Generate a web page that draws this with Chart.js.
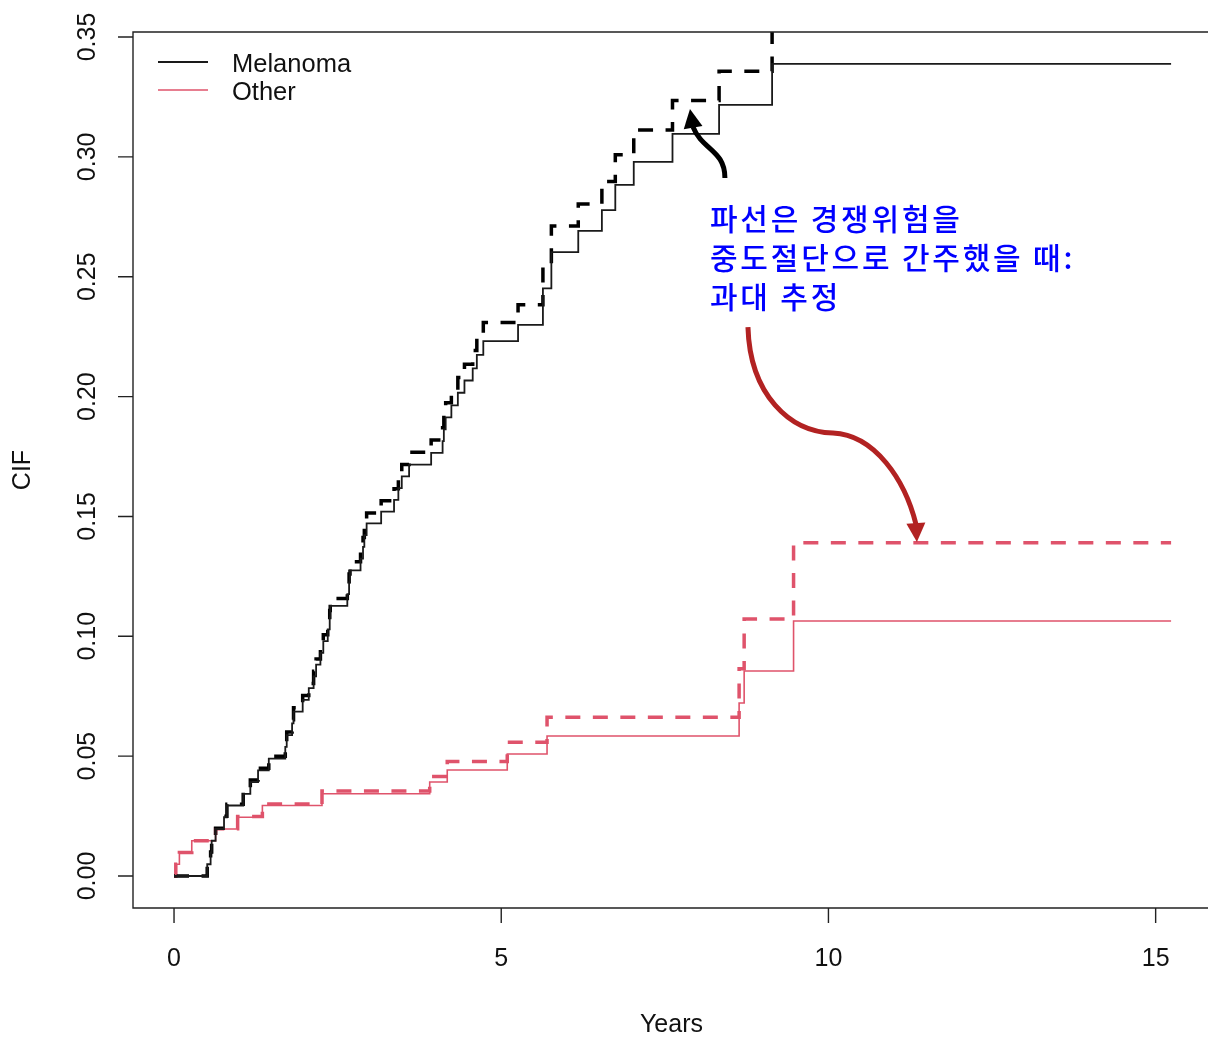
<!DOCTYPE html>
<html><head><meta charset="utf-8">
<script src="https://cdn.jsdelivr.net/npm/chart.js@4/dist/chart.umd.min.js"></script>
<style>html,body{margin:0;padding:0;background:#fff;}canvas{display:block;}</style>
</head><body>
<canvas id="c" width="1208" height="1038"></canvas>
<script>
// ---- data (years, cumulative incidence) ----
const melanomaTimes = [0,0.507,0.559,0.575,0.635,0.764,0.808,1.057,1.166,1.284,1.448,1.700,1.722,1.804,1.826,1.966,2.059,2.133,2.171,2.237,2.281,2.349,2.379,2.387,2.648,2.675,2.689,2.850,2.888,2.908,2.943,3.165,3.362,3.428,3.480,3.592,3.929,4.104,4.123,4.151,4.238,4.337,4.438,4.564,4.627,4.726,5.257,5.637,5.766,6.177,6.538,6.743,7.025,7.617,8.329,9.139,15.236];
const melanomaCIF = [0,0.0049,0.0098,0.0147,0.0196,0.0245,0.0294,0.0343,0.0392,0.0441,0.0490,0.0539,0.0588,0.0637,0.0686,0.0735,0.0784,0.0833,0.0882,0.0931,0.0980,0.1029,0.1078,0.1127,0.1176,0.1225,0.1275,0.1324,0.1373,0.1422,0.1471,0.1520,0.1569,0.1618,0.1667,0.1716,0.1765,0.1814,0.1863,0.1913,0.1963,0.2016,0.2067,0.2118,0.2174,0.2231,0.2299,0.2451,0.2603,0.2691,0.2778,0.2883,0.2979,0.3096,0.3217,0.3388,0.3388];
const melanomaCensored = [0,0.0050,0.0100,0.0149,0.0199,0.0249,0.0299,0.0349,0.0400,0.0450,0.0500,0.0551,0.0601,0.0652,0.0702,0.0753,0.0803,0.0854,0.0905,0.0955,0.1006,0.1057,0.1108,0.1158,0.1209,0.1260,0.1311,0.1362,0.1412,0.1463,0.1514,0.1565,0.1616,0.1666,0.1717,0.1768,0.1819,0.1870,0.1921,0.1974,0.2026,0.2080,0.2135,0.2192,0.2250,0.2309,0.2383,0.2547,0.2712,0.2803,0.2897,0.3009,0.3112,0.3235,0.3357,0.3545,0.3545];
const otherTimes = [0,0.027,0.082,0.271,0.635,0.972,1.350,2.261,3.907,4.175,5.092,5.700,8.635,8.712,9.467,15.236];
const otherCIF = [0,0.0049,0.0098,0.0147,0.0196,0.0245,0.0294,0.0343,0.0392,0.0442,0.0509,0.0584,0.0722,0.0855,0.1064,0.1064];
const otherCensored = [0,0.0049,0.0098,0.0147,0.0197,0.0248,0.0300,0.0355,0.0415,0.0478,0.0558,0.0662,0.0865,0.1072,0.1390,0.1390];
const xTickValues = [0,5,10,15];
const xTickLabels = ['0','5','10','15'];
const yTickValues = [0,0.05,0.10,0.15,0.20,0.25,0.30,0.35];
const yTickLabels = ['0.00','0.05','0.10','0.15','0.20','0.25','0.30','0.35'];
const legendLabels = ['Melanoma','Other'];
const xTitle = 'Years';
const yTitle = 'CIF';
const noteLines = ['파선은 경쟁위험을','중도절단으로 간주했을 때:','과대 추정'];

// annotation geometry in data units
const noteAnchor = {x: 8.189, y: 0.2695};
const blackArrow = [[8.418,0.2912],[8.418,0.3029],[8.067,0.3029],[7.930,0.3125]];
const blackArrowTip = [7.884,0.3200];
const redArrow = [[8.770,0.2290],[8.801,0.2007],[9.412,0.1852],[10.069,0.1848],[10.711,0.1840],[11.169,0.1652],[11.337,0.1468]];
const redArrowTip = [11.352,0.1393];

const BLACK = '#1a1a1a';
const PINK = '#DF536B';
const AXIS_FONT = '25px "Liberation Sans", Arial, sans-serif';

function pts(xs, ys){ return xs.map((x,i)=>({x:x, y:ys[i]})); }

function spacedText(ctx, str, x, y, gap){
  let cx = x;
  for (const ch of str){
    ctx.fillText(ch, cx, y);
    cx += ctx.measureText(ch).width + gap;
  }
}

const decor = {
  id: 'decor',
  afterDraw(chart){
    const ctx = chart.ctx, ca = chart.chartArea;
    const xs = chart.scales.x, ys = chart.scales.y;
    ctx.save();
    // box (right edge lies beyond the canvas)
    ctx.strokeStyle = '#222'; ctx.lineWidth = 1.4;
    ctx.beginPath();
    ctx.moveTo(ca.right+5, ca.top); ctx.lineTo(ca.left, ca.top); ctx.lineTo(ca.left, ca.bottom); ctx.lineTo(ca.right+5, ca.bottom);
    ctx.stroke();
    // ticks
    ctx.beginPath();
    xTickValues.forEach(v=>{ const p = xs.getPixelForValue(v); ctx.moveTo(p, ca.bottom); ctx.lineTo(p, ca.bottom+15); });
    yTickValues.forEach(v=>{ const p = ys.getPixelForValue(v); ctx.moveTo(ca.left, p); ctx.lineTo(ca.left-15, p); });
    ctx.stroke();
    // tick labels
    ctx.fillStyle = '#111'; ctx.font = AXIS_FONT; ctx.textAlign = 'center'; ctx.textBaseline = 'alphabetic';
    xTickValues.forEach((v,i)=>{ ctx.fillText(xTickLabels[i], xs.getPixelForValue(v), ca.bottom+58); });
    yTickValues.forEach((v,i)=>{
      ctx.save(); ctx.translate(ca.left-38, ys.getPixelForValue(v)); ctx.rotate(-Math.PI/2);
      ctx.fillText(yTickLabels[i], 0, 0); ctx.restore();
    });
    // axis titles
    ctx.fillText(xTitle, (ca.left + ca.right)/2 + 1, ca.bottom + 124);
    ctx.save(); ctx.translate(30, (ca.top+ca.bottom)/2); ctx.rotate(-Math.PI/2); ctx.fillText(yTitle, 0, 0); ctx.restore();
    // legend
    const lx = ca.left + 25, ly = ca.top + 30;
    [[BLACK,1.8],[PINK,1.6]].forEach((s,i)=>{
      ctx.strokeStyle = s[0]; ctx.lineWidth = s[1];
      ctx.beginPath(); ctx.moveTo(lx, ly + i*28); ctx.lineTo(lx+50, ly + i*28); ctx.stroke();
    });
    ctx.textAlign = 'left'; ctx.font = '25.5px "Liberation Sans", Arial, sans-serif';
    legendLabels.forEach((t,i)=>{ ctx.fillText(t, lx+74, ly + 10 + i*28); });
    // annotation text
    ctx.fillStyle = '#0000FF'; ctx.font = '500 30px "Noto Sans CJK KR"';
    const ax = xs.getPixelForValue(noteAnchor.x), ay = ys.getPixelForValue(noteAnchor.y);
    noteLines.forEach((t,i)=>{ spacedText(ctx, t, ax, ay + i*39, 2.8); });
    // arrows
    const P = p => [xs.getPixelForValue(p[0]), ys.getPixelForValue(p[1])];
    function arrow(path, tip, color){
      const q = path.map(P);
      ctx.strokeStyle = color; ctx.fillStyle = color; ctx.lineWidth = 5; ctx.lineCap = 'butt';
      ctx.beginPath(); ctx.moveTo(q[0][0], q[0][1]);
      for (let i=1;i+2<q.length;i+=3) ctx.bezierCurveTo(q[i][0],q[i][1],q[i+1][0],q[i+1][1],q[i+2][0],q[i+2][1]);
      ctx.stroke();
      const end = q[q.length-1], t = P(tip);
      const dx = t[0]-end[0], dy = t[1]-end[1], L = Math.hypot(dx,dy);
      const ux = dx/L, uy = dy/L;
      const bx = t[0] - ux*19, by = t[1] - uy*19;
      ctx.beginPath(); ctx.moveTo(t[0], t[1]);
      ctx.lineTo(bx - uy*9.5, by + ux*9.5); ctx.lineTo(bx + uy*9.5, by - ux*9.5); ctx.closePath(); ctx.fill();
    }
    arrow(blackArrow, blackArrowTip, '#000');
    arrow(redArrow, redArrowTip, '#B22222');
    ctx.restore();
  }
};

new Chart(document.getElementById('c'), {
  type: 'line',
  data: {
    datasets: [
      {label: legendLabels[0], data: pts(melanomaTimes, melanomaCIF), borderColor: BLACK, borderWidth: 1.8, stepped: true, pointRadius: 0, fill: false, clip: 0},
      {label: legendLabels[1], data: pts(otherTimes, otherCIF), borderColor: PINK, borderWidth: 1.6, stepped: true, pointRadius: 0, fill: false, clip: 0},
      {label: legendLabels[0] + ' (censored)', data: pts(melanomaTimes, melanomaCensored), borderColor: '#000', borderWidth: 3.5, borderDash: [15,12.5], stepped: true, pointRadius: 0, fill: false, clip: 0},
      {label: legendLabels[1] + ' (censored)', data: pts(otherTimes, otherCensored), borderColor: PINK, borderWidth: 3.5, borderDash: [15,12.5], stepped: true, pointRadius: 0, fill: false, clip: 0}
    ]
  },
  options: {
    responsive: false,
    animation: false,
    layout: {padding: {left: 133, top: 32, right: 0, bottom: 130}},
    plugins: {legend: {display: false}, tooltip: {enabled: false}},
    scales: {
      x: {type: 'linear', min: -0.627, max: 15.8, display: false},
      y: {type: 'linear', min: -0.01335, max: 0.35209, display: false}
    }
  },
  plugins: [decor]
});
</script>
</body></html>
